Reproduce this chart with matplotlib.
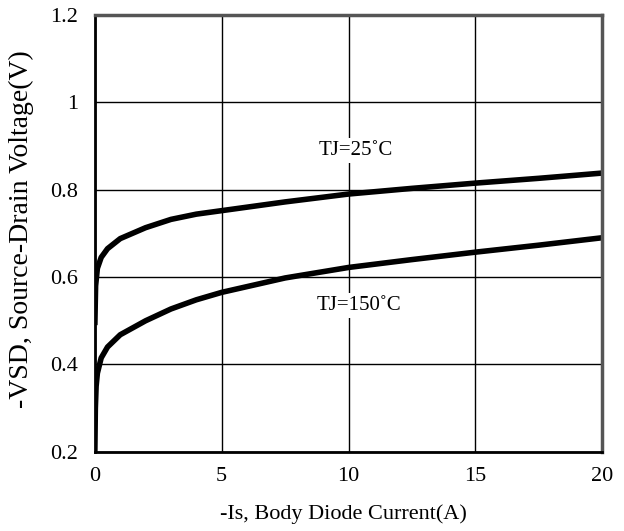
import matplotlib.pyplot as plt
import numpy as np

plt.rcParams['font.family'] = 'Liberation Serif'

# -Is (A)
x25 = [0, 0.03, 0.1, 0.25, 0.5, 1, 2, 3, 4, 5, 7.5, 10, 12.5, 15, 17.5, 20]
y25 = [0.49, 0.58, 0.62, 0.645, 0.665, 0.688, 0.713, 0.732, 0.744, 0.752, 0.772, 0.79, 0.803, 0.815, 0.826, 0.838]

x150 = [0, 0.02, 0.05, 0.1, 0.25, 0.5, 1, 2, 3, 4, 5, 7.5, 10, 12.5, 15, 17.5, 20]
y150 = [0.2, 0.3, 0.35, 0.38, 0.415, 0.44, 0.468, 0.5, 0.527, 0.548, 0.565, 0.598, 0.622, 0.64, 0.657, 0.673, 0.69]

xticks = [0, 5, 10, 15, 20]
yticks = [0.2, 0.4, 0.6, 0.8, 1.0, 1.2]
ytick_labels = ['0.2', '0.4', '0.6', '0.8', '1', '1.2']

fig = plt.figure(figsize=(6.24, 5.31), dpi=100)
ax = fig.add_axes([0.152, 0.149, 0.813, 0.823])

ax.plot(x25, y25, color='black', lw=4, solid_capstyle='butt')
ax.plot(x150, y150, color='black', lw=4, solid_capstyle='butt')

ax.set_xlim(0, 20)
ax.set_ylim(0.2, 1.2)
ax.set_xticks(xticks)
ax.set_yticks(yticks)
ax.set_yticklabels(ytick_labels)
ax.grid(True, color='black', lw=1)
ax.set_axisbelow(True)
ax.tick_params(axis='x', length=0, labelsize=16, pad=11)
ax.tick_params(axis='y', length=0, labelsize=16, pad=12)

for s in ['left', 'bottom']:
    ax.spines[s].set_linewidth(2)
for s in ['top', 'right']:
    ax.spines[s].set_linewidth(2.5)
    ax.spines[s].set_color('#555555')

box = dict(facecolor='white', edgecolor='none', pad=2)
ax.text(10.3, 0.89, 'TJ=25\u02daC', fontsize=15, ha='center', va='center', bbox=box)
ax.text(10.4, 0.535, 'TJ=150\u02daC', fontsize=15, ha='center', va='center', bbox=box)

ax.set_xlabel('-Is, Body Diode Current(A)', fontsize=16)
ax.set_ylabel('-VSD, Source-Drain Voltage(V)', fontsize=20)
ax.xaxis.set_label_coords(0.49, -0.12)
ax.yaxis.set_label_coords(-0.12, 0.51)

fig.savefig('out.png', dpi=100)
